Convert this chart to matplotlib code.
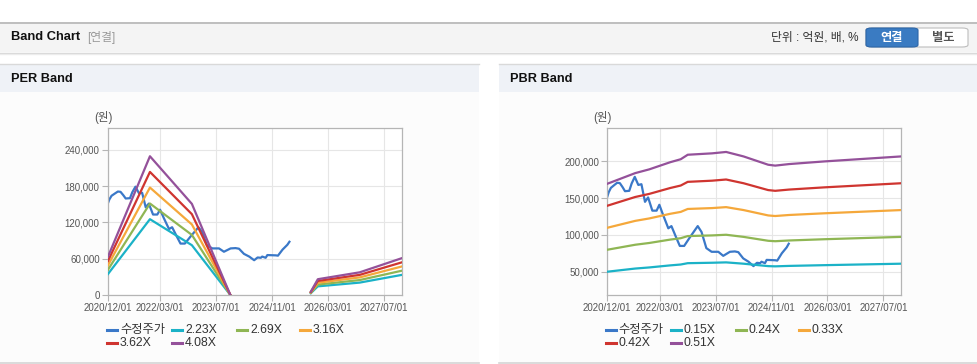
import numpy as np
import pandas as pd
import matplotlib
matplotlib.use('Agg')
import matplotlib.pyplot as plt
from matplotlib.patches import Rectangle, FancyBboxPatch
from matplotlib.lines import Line2D
from matplotlib.ticker import FuncFormatter

plt.rcParams['font.family'] = ['Liberation Sans', 'Noto Sans CJK KR', 'DejaVu Sans']

# ---- data ----
price_dates = ['2020-12-01', '2020-12-13', '2021-01-01', '2021-02-01', '2021-02-25', '2021-03-20',
               '2021-04-13', '2021-05-04', '2021-06-10', '2021-07-01', '2021-07-28', '2021-08-28',
               '2021-09-24', '2021-10-25', '2021-11-21', '2021-12-28', '2022-02-03', '2022-02-27',
               '2022-04-01', '2022-05-16', '2022-06-12', '2022-07-22', '2022-08-24', '2022-10-01',
               '2022-11-21', '2023-01-27', '2023-03-01', '2023-04-12', '2023-05-28', '2023-07-25',
               '2023-09-06', '2023-11-03', '2023-12-16', '2024-01-15', '2024-02-27', '2024-04-13',
               '2024-05-26', '2024-06-25', '2024-07-23', '2024-08-04', '2024-09-03', '2024-09-18',
               '2024-12-01', '2024-12-19', '2025-01-28', '2025-03-11', '2025-03-29']
price = [152000, 158000, 164000, 168000, 171000, 170500,
         165000, 159500, 160000, 170000, 179000, 168000,
         169000, 145000, 151000, 133000, 133000, 141000,
         127000, 109000, 112000, 97000, 85000, 85000,
         97000, 112000, 104000, 82000, 77000, 77000,
         71500, 77000, 77500, 76500, 68000, 63500,
         57500, 62000, 61500, 63500, 61500, 66000,
         65500, 65000, 75000, 83000, 88000]

per_dates = ['2020-12-01', '2021-12-01', '2022-12-01', '2023-11-01', '2024-06-01',
             '2025-10-01', '2025-12-01', '2026-12-01', '2027-12-01']
per_labels = ['2.23X', '2.69X', '3.16X', '3.62X', '4.08X']
per_223 = [34700, 125300, 82300, 0, np.nan, 3000, 14300, 20500, 33200]
per_269 = [41800, 151200, 99300, 0, np.nan, 3600, 17200, 24700, 40100]
per_316 = [49100, 177600, 116600, 0, np.nan, 4300, 20200, 29100, 47100]
per_362 = [56300, 203400, 133600, 0, np.nan, 4900, 23200, 33300, 53900]
per_408 = [63400, 229300, 150600, 0, np.nan, 5500, 26100, 37500, 60800]

pbr_dates = ['2020-12-01', '2021-08-01', '2021-12-01', '2022-06-01', '2022-09-01', '2022-11-01',
             '2023-06-01', '2023-10-01', '2024-03-01', '2024-10-01', '2024-12-01', '2025-04-01',
             '2026-02-01', '2027-12-01']
pbr_labels = ['0.15X', '0.24X', '0.33X', '0.42X', '0.51X']
pbr_015 = [49900, 54200, 55700, 58500, 59700, 61500, 62100, 62600, 60800, 57500, 57200, 57800, 58800, 60800]
pbr_024 = [79800, 86600, 89000, 93600, 95500, 98400, 99300, 100200, 97300, 92000, 91400, 92400, 94100, 97300]
pbr_033 = [109700, 119100, 122400, 128700, 131300, 135300, 136500, 137800, 133800, 126500, 125700, 127100, 129400, 133800]
pbr_042 = [139700, 151600, 155800, 163800, 167200, 172200, 173800, 175400, 170300, 161000, 160000, 161700, 164700, 170300]
pbr_051 = [169600, 184100, 189200, 198900, 203000, 209100, 211000, 212900, 206800, 195500, 194300, 196400, 200000, 206800]

x_ticks = ['2020-12-01', '2022-03-01', '2023-07-01', '2024-11-01', '2026-03-01', '2027-07-01']

price_color = '#3a78c8'
band_colors = ['#1bb2c7', '#8fb654', '#f5a83b', '#cf3530', '#94519a']

W, H = 978, 364


def fx(x):
    return x / W


def fy(y):
    return 1 - y / H


fig = plt.figure(figsize=(W / 100, H / 100), dpi=100)
fig.patch.set_facecolor('white')


def rect(x0, y0, x1, y1, color):
    fig.patches.append(Rectangle((fx(x0), fy(y1)), fx(x1 - x0), (y1 - y0) / H,
                                 transform=fig.transFigure, facecolor=color,
                                 edgecolor='none', zorder=-2))


def hline(x0, x1, y, color, lw=1.0):
    fig.add_artist(Line2D([fx(x0), fx(x1)], [fy(y), fy(y)], transform=fig.transFigure,
                          color=color, lw=lw, zorder=-1))


# header bar
rect(0, 22, 978, 52, '#f4f4f4')
hline(0, 978, 22.5, '#b5b5b5', 1.2)
hline(0, 978, 52.5, '#d6d6d6', 1.0)
hline(0, 978, 53.5, '#ececec', 1.0)
fig.text(fx(11), fy(37.5), 'Band Chart', fontsize=9.3, fontweight='bold', color='#111111', va='center')
fig.text(fx(87), fy(38), '[연결]', fontsize=8.5, color='#999999', va='center')
fig.text(fx(859), fy(38), '단위 : 억원, 배, %', fontsize=8.5, color='#333333', va='center', ha='right')
fig.patches.append(FancyBboxPatch((fx(866), fy(47)), fx(102), 19 / H, boxstyle='round,pad=0,rounding_size=0.006',
                                  transform=fig.transFigure, facecolor='white', edgecolor='#bdbdbd', lw=0.8, zorder=1))
fig.patches.append(FancyBboxPatch((fx(866), fy(47)), fx(52), 19 / H, boxstyle='round,pad=0,rounding_size=0.006',
                                  transform=fig.transFigure, facecolor='#3a7bc2', edgecolor='#2d66a8', lw=0.8, zorder=2))
fig.text(fx(892), fy(38), '연결', fontsize=8.8, fontweight='bold', color='white', ha='center', va='center', zorder=3)
fig.text(fx(943), fy(38), '별도', fontsize=8.8, fontweight='bold', color='#555555', ha='center', va='center', zorder=3)

# panels
for x0, x1, title in [(0, 479, 'PER Band'), (499, 978, 'PBR Band')]:
    rect(x0, 64, x1, 92, '#eff2f7')
    rect(x0, 92, x1, 362, '#fcfcfc')
    hline(x0, x1, 64, '#d9d9d9', 1.0)
    hline(x0, x1, 362.5, '#d4d4d4', 1.2)
    fig.text(fx(x0 + 11), fy(79.5), title, fontsize=9.2, fontweight='bold', color='#111111', va='center')


def style_axes(ax, yticks, ylim):
    ax.set_facecolor('white')
    ax.set_xlim(pd.Timestamp('2020-12-01'), pd.Timestamp('2027-12-01'))
    ax.set_ylim(*ylim)
    ax.set_yticks(yticks)
    ax.yaxis.set_major_formatter(FuncFormatter(lambda v, p: f'{v:,.0f}'))
    ax.set_xticks(pd.to_datetime(x_ticks))
    ax.set_xticklabels([d.replace('-', '/') for d in x_ticks])
    ax.grid(True, color='#e6e6e6', lw=0.8)
    ax.set_axisbelow(True)
    for s in ax.spines.values():
        s.set_color('#b5b5b5')
        s.set_linewidth(0.9)
    ax.tick_params(axis='both', colors='#b5b5b5', labelcolor='#555555', labelsize=7,
                   length=4, width=0.8, pad=2)


def legend(x_base, labels):
    items = ['수정주가'] + labels
    cols = [0, 65, 130, 193]
    colors = [price_color] + band_colors
    for i, (lab, c) in enumerate(zip(items, colors)):
        row, col = divmod(i, 4)
        x = x_base + cols[col]
        y = 330 + row * 13.3
        fig.add_artist(Line2D([fx(x), fx(x + 10)], [fy(y), fy(y)], transform=fig.transFigure,
                              color=c, lw=2.2, zorder=3))
        fig.text(fx(x + 13), fy(y), lab, fontsize=8.8, color='#333333', va='center', zorder=3)


# PER chart
ax1 = fig.add_axes([fx(108), fy(295), 293.7 / W, (295 - 128) / H])
ax1.plot(pd.to_datetime(price_dates), price, color=price_color, lw=1.6, zorder=2)
for vals, c in zip([per_223, per_269, per_316, per_362, per_408], band_colors):
    ax1.plot(pd.to_datetime(per_dates), vals, color=c, lw=1.6, zorder=3)
style_axes(ax1, [0, 60000, 120000, 180000, 240000], (0, 276000))
fig.text(fx(103), fy(118), '(원)', fontsize=8.3, color='#555555', ha='center', va='center')
legend(107, per_labels)

# PBR chart
ax2 = fig.add_axes([fx(607.3), fy(295), 293.7 / W, (295 - 128) / H])
ax2.plot(pd.to_datetime(price_dates), price, color=price_color, lw=1.6, zorder=2)
for vals, c in zip([pbr_015, pbr_024, pbr_033, pbr_042, pbr_051], band_colors):
    ax2.plot(pd.to_datetime(pbr_dates), vals, color=c, lw=1.6, zorder=3)
style_axes(ax2, [50000, 100000, 150000, 200000], (18200, 245500))
fig.text(fx(602), fy(118), '(원)', fontsize=8.3, color='#555555', ha='center', va='center')
legend(605.7, pbr_labels)

fig.savefig('out.png', dpi=100)
